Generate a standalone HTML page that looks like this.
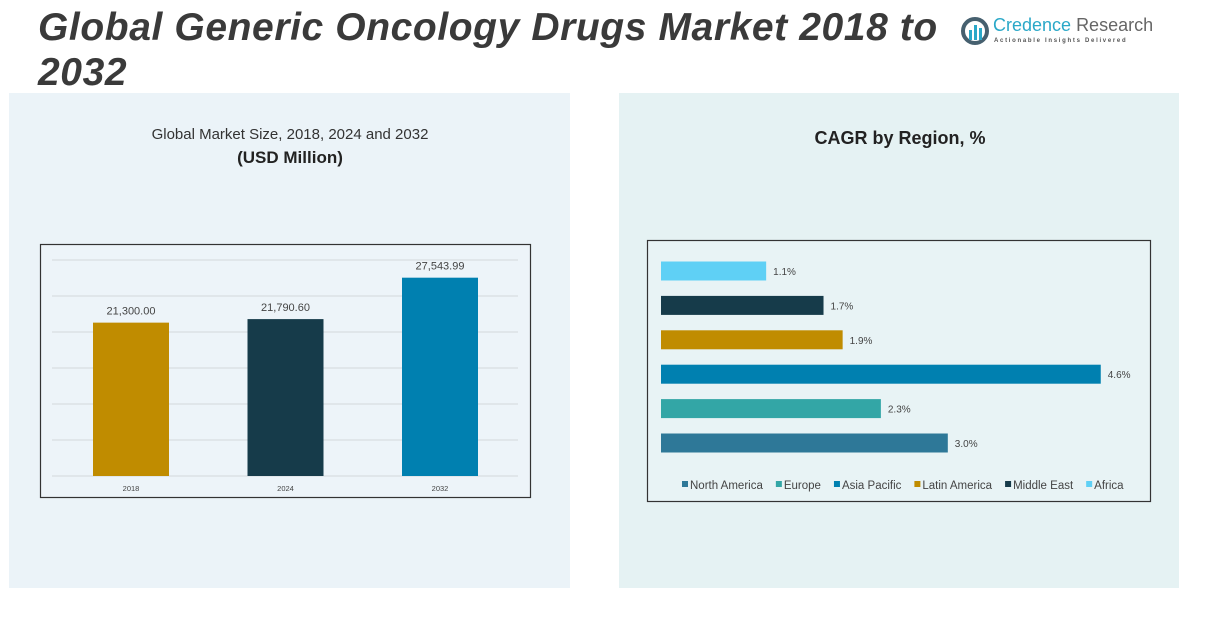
<!DOCTYPE html>
<html><head><meta charset="utf-8"><style>
body{margin:0;width:1206px;height:622px;background:#fff;font-family:"Liberation Sans",sans-serif;overflow:hidden;position:relative}
.abs{position:absolute}
</style></head><body>
<div class="abs" style="left:38px;top:5px;font-size:39px;letter-spacing:0.6px;font-weight:bold;font-style:italic;color:#3a3a3a;line-height:45px;width:920px">Global Generic Oncology Drugs Market 2018 to 2032</div>
<div class="abs" style="left:960px;top:14px;width:200px;height:34px;white-space:nowrap">
<svg width="32" height="32" style="position:absolute;left:0;top:2px"><circle cx="15" cy="15" r="12" fill="none" stroke="#46606f" stroke-width="4"/><rect x="9" y="14" width="3" height="10" fill="#2aa8c8"/><rect x="14" y="9" width="3" height="15" fill="#2aa8c8"/><rect x="19" y="12" width="3" height="12" fill="#2aa8c8"/></svg>
<div class="abs" style="left:33px;top:1px;font-size:18px;color:#2aa8c8;white-space:nowrap">Credence <span style="color:#666">Research</span></div>
<div class="abs" style="left:34px;top:24px;font-size:6px;letter-spacing:1.7px;color:#555;font-weight:bold;white-space:nowrap">Actionable Insights Delivered</div>
</div>
<div class="abs" style="left:9px;top:93px;width:561px;height:495px;background:#ebf3f8"></div>
<div class="abs" style="left:619px;top:93px;width:560px;height:495px;background:#e5f2f3"></div>
<div class="abs" style="left:90px;top:126px;width:400px;text-align:center;font-size:15px;color:#333">Global Market Size, 2018, 2024 and 2032</div>
<div class="abs" style="left:90px;top:148px;width:400px;text-align:center;font-size:17px;font-weight:bold;color:#222">(USD Million)</div>
<div class="abs" style="left:700px;top:128px;width:400px;text-align:center;font-size:18px;font-weight:bold;color:#222">CAGR by Region, %</div>
<svg class="abs" style="left:0;top:0" width="1206" height="622" id="svg">
<rect x="40.5" y="244.5" width="490" height="253" fill="#edf4f9" stroke="#333" stroke-width="1.2"/>
<rect x="647.5" y="240.5" width="503" height="261" fill="#e8f3f5" stroke="#333" stroke-width="1.2"/>
</svg>
<script>
const years=["2018","2024","2032"];
const sizes=[21300.00,21790.60,27543.99];
const sizeLabels=["21,300.00","21,790.60","27,543.99"];
const barColors=["#c08c00","#163b4a","#0080b0"];
const regions=["Africa","Middle East","Latin America","Asia Pacific","Europe","North America"];
const cagr=[1.1,1.7,1.9,4.6,2.3,3.0];
const regionColors=["#5fd0f5","#163b4a","#c08c00","#0080b0","#33a6a6","#2e7898"];
const legendOrder=["North America","Europe","Asia Pacific","Latin America","Middle East","Africa"];
const svg=document.getElementById('svg');const NS="http://www.w3.org/2000/svg";
function mk(t,a,txt){const e=document.createElementNS(NS,t);for(const k in a)e.setAttribute(k,a[k]);if(txt!=null)e.textContent=txt;svg.appendChild(e);return e;}
const y=v=>476-v/30000*216;
for(let g=0;g<=30000;g+=5000){const l=mk('line',{x1:52,x2:518,y1:y(g),y2:y(g),stroke:'#d4d8db','stroke-width':1});

}
years.forEach((yr,i)=>{const cx=131+i*154.5;
const r=mk('rect',{x:cx-38,y:y(sizes[i]),width:76,height:476-y(sizes[i]),fill:barColors[i]});


const t=mk('text',{x:cx,y:y(sizes[i])-8,'text-anchor':'middle','font-size':11,fill:'#444'},sizeLabels[i]);


const xl=mk('text',{x:cx,y:491,'text-anchor':'middle','font-size':7.5,fill:'#444'},yr);

});
const xs=v=>661+v*95.6;
regions.forEach((rg,i)=>{const cy=271+i*34.4;
const r=mk('rect',{x:661,y:cy-9.5,width:xs(cagr[i])-661,height:19,fill:regionColors[i]});


const t=mk('text',{x:xs(cagr[i])+7,y:cy+4,'font-size':10,fill:'#444'},cagr[i].toFixed(1)+'%');

});
let lx=682;
legendOrder.forEach(n=>{const c=regionColors[regions.indexOf(n)];
const s=mk('rect',{x:lx,y:481,width:6,height:6,fill:c});


const t=mk('text',{x:lx+8,y:489,'font-size':11.5,fill:'#444'},n);


lx+=8+t.getComputedTextLength()+13;});
</script>
</body></html>
